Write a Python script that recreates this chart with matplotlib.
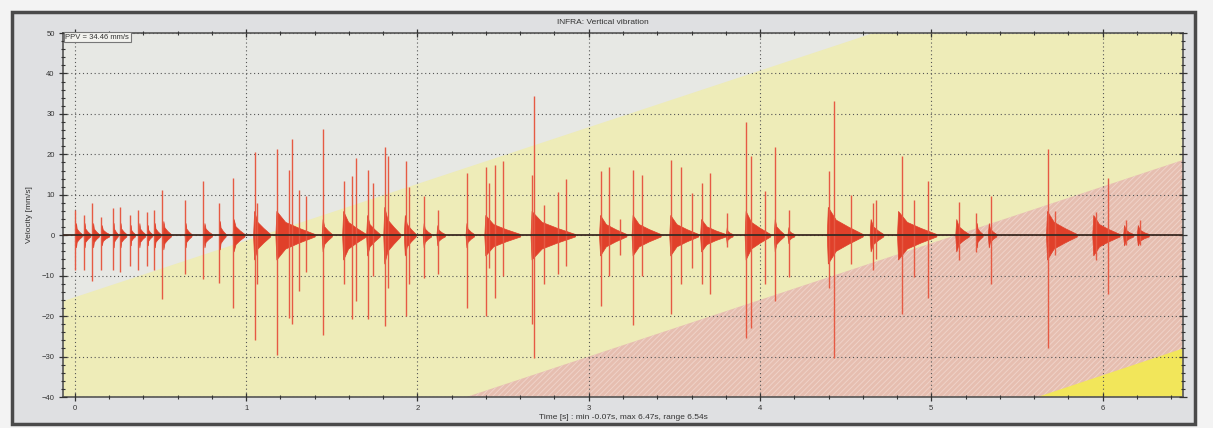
import numpy as np
import matplotlib.pyplot as plt
from matplotlib.patches import Rectangle
from matplotlib.ticker import MultipleLocator

plt.rcParams['font.family'] = ['Liberation Sans', 'DejaVu Sans']

# spike peaks: time [s], max and min velocity [mm/s]
spike_t = [0.00, 0.05, 0.10, 0.15, 0.22, 0.26, 0.32, 0.37, 0.42, 0.46, 0.51, 0.64,
           0.75, 0.84, 0.92, 1.05, 1.06, 1.18, 1.25, 1.27, 1.31, 1.35, 1.45, 1.57,
           1.62, 1.64, 1.71, 1.74, 1.81, 1.83, 1.93, 1.95, 2.04, 2.12, 2.29, 2.40,
           2.42, 2.45, 2.50, 2.67, 2.68, 2.74, 2.82, 2.87, 3.07, 3.12, 3.18, 3.26,
           3.31, 3.48, 3.54, 3.60, 3.66, 3.71, 3.81, 3.92, 3.95, 4.03, 4.09, 4.17,
           4.40, 4.43, 4.53, 4.66, 4.68, 4.83, 4.90, 4.98, 5.16, 5.26, 5.35, 5.68,
           5.72, 5.96, 6.03, 6.14, 6.22]
spike_up = [6.2, 5.0, 7.9, 4.6, 6.7, 7.0, 5.0, 6.2, 5.8, 6.2, 11.2, 8.7,
            13.3, 7.9, 14.2, 20.5, 8.0, 21.2, 16.2, 23.7, 11.2, 9.6, 26.2, 13.3,
            14.6, 19.2, 16.2, 12.9, 21.7, 19.6, 18.3, 12.0, 9.6, 6.2, 15.4, 16.9,
            13.0, 17.3, 18.3, 15.0, 34.5, 7.5, 10.7, 14.0, 15.8, 16.9, 4.0, 16.1,
            14.8, 18.7, 16.9, 10.4, 13.0, 15.4, 5.5, 27.9, 19.6, 11.0, 21.7, 6.2,
            16.0, 33.1, 10.0, 8.0, 8.7, 19.6, 8.7, 13.3, 8.3, 5.5, 9.6, 21.2,
            6.0, 5.8, 14.2, 3.7, 3.7]
spike_dn = [-8.7, -8.7, -11.2, -8.7, -8.7, -9.0, -7.5, -8.7, -7.5, -8.7, -15.8, -9.6,
            -10.8, -11.7, -18.0, -26.0, -12.0, -29.6, -20.4, -21.9, -13.7, -9.0, -24.6, -12.0,
            -20.8, -16.2, -20.8, -10.0, -22.5, -13.0, -20.0, -12.0, -10.5, -9.6, -17.9, -20.0,
            -8.0, -15.4, -10.0, -22.0, -30.4, -12.0, -9.6, -7.5, -17.5, -10.0, -5.0, -22.1,
            -10.0, -19.6, -12.0, -8.0, -12.0, -14.6, -3.0, -25.4, -23.0, -12.0, -16.2, -10.4,
            -13.0, -30.4, -7.0, -8.7, -6.0, -19.6, -10.4, -15.4, -6.2, -4.2, -12.0, -28.0,
            -5.0, -6.2, -14.6, -2.5, -2.5]

# dense part of each event: start, end, amplitude [mm/s]
burst_t0 = [0.00, 0.05, 0.10, 0.15, 0.22, 0.26, 0.32, 0.37, 0.42, 0.46, 0.51, 0.64,
            0.75, 0.84, 0.92, 1.04, 1.17, 1.44, 1.56, 1.70, 1.80, 1.92, 2.03, 2.11,
            2.28, 2.39, 2.66, 3.06, 3.25, 3.47, 3.65, 3.80, 3.91, 4.08, 4.16, 4.39,
            4.64, 4.80, 5.14, 5.26, 5.33, 5.67, 5.94, 6.12, 6.20]
burst_t1 = [0.04, 0.09, 0.14, 0.20, 0.25, 0.30, 0.35, 0.41, 0.45, 0.50, 0.56, 0.68,
            0.80, 0.88, 0.99, 1.14, 1.40, 1.50, 1.70, 1.78, 1.90, 1.99, 2.08, 2.16,
            2.33, 2.60, 2.92, 3.22, 3.42, 3.64, 3.80, 3.84, 4.06, 4.14, 4.20, 4.60,
            4.72, 5.03, 5.22, 5.30, 5.38, 5.85, 6.10, 6.18, 6.27]
burst_amp = [3.0, 3.0, 3.0, 2.5, 3.0, 3.0, 2.5, 3.0, 2.5, 3.0, 3.5, 3.0,
             3.0, 3.5, 4.0, 6.0, 6.0, 4.0, 6.0, 5.0, 7.0, 5.0, 3.0, 2.5,
             3.0, 5.0, 6.0, 5.0, 5.0, 5.0, 4.0, 2.0, 6.0, 4.0, 2.0, 7.0,
             4.0, 6.0, 4.0, 3.0, 3.0, 6.0, 5.0, 2.5, 2.5]

# limit zones: value of each sloping edge at the left and right axis edge
t_min, t_max = -0.07, 6.47
zone_left = [-16.3, -73.0, -120.4]
zone_right = [75.3, 18.6, -28.0]
zone_colors = ['#eeecb8', '#e6beb0', '#f2e65a']

fig = plt.figure(figsize=(12.13, 4.28), dpi=100, facecolor='#f3f3f3')
fig.patches.append(Rectangle((12 / 1213, 4 / 428), 1183 / 1213, 412 / 428,
                             transform=fig.transFigure, facecolor='#dfe0e2',
                             edgecolor='#4a4a4a', linewidth=2.5, zorder=-5))

ax = fig.add_axes([63 / 1213, 31 / 428, 1120 / 1213, 364 / 428])
ax.set_facecolor('#e7e8e4')
ax.set_xlim(t_min, t_max)
ax.set_ylim(-40, 50)

plt.rcParams['hatch.linewidth'] = 0.7
xs = [t_min, t_max]
for i, c in enumerate(zone_colors):
    kw = dict(facecolor=c, linewidth=0, zorder=0.5 + i * 0.1)
    if i == 1:
        kw.update(hatch='//////', edgecolor='#efd2c8')
    ax.fill_between(xs, [-60, -60], [zone_left[i], zone_right[i]], **kw)

red = '#e0402a'
for t0, t1, a in zip(burst_t0, burst_t1, burst_amp):
    d = t1 - t0
    ax.fill_between([t0, t0 + 0.006, t0 + 0.25 * d, t0 + 0.6 * d, t1],
                    [0, a, 0.55 * a, 0.3 * a, 0.3],
                    [0, -a, -0.55 * a, -0.3 * a, -0.3],
                    color=red, linewidth=0.5, zorder=3)
ax.vlines(spike_t, spike_dn, spike_up, color='#e65a44', linewidth=1.0, zorder=3)
ax.axhline(0, color='#3b2a22', linewidth=1.3, zorder=4)

ax.xaxis.set_major_locator(MultipleLocator(1))
ax.xaxis.set_minor_locator(MultipleLocator(0.2))
ax.yaxis.set_major_locator(MultipleLocator(10))
ax.yaxis.set_minor_locator(MultipleLocator(2))
ax.tick_params(which='both', direction='inout', top=True, right=True,
               labelsize=5.5, colors='#333333', pad=3)
ax.tick_params(which='major', length=6, width=0.9)
ax.tick_params(which='minor', length=3.5, width=0.8)
ax.grid(True, which='major', color='#555555', linestyle=(0, (1, 2.5)), linewidth=0.8)
ax.set_axisbelow(False)
for s in ax.spines.values():
    s.set_color('#555555')
    s.set_linewidth(1.2)

ax.set_ylabel('Velocity [mm/s]', fontsize=6, color='#333333', labelpad=6)
ax.set_xlabel('Time [s] : min -0.07s, max 6.47s, range 6.54s', fontsize=6,
              color='#333333', labelpad=1)
fig.text(603 / 1213, 1 - 22 / 428, 'INFRA: Vertical vibration', fontsize=6,
         color='#333333', ha='center', va='center')
ax.text(0.002, 0.998, 'PPV = 34.46 mm/s', transform=ax.transAxes, fontsize=5.5,
        color='#333333', ha='left', va='top', zorder=6,
        bbox=dict(boxstyle='square,pad=0.2', facecolor='#f2f2ee', edgecolor='#777777',
                  linewidth=0.8))

fig.savefig('out.png', dpi=100, facecolor=fig.get_facecolor())
